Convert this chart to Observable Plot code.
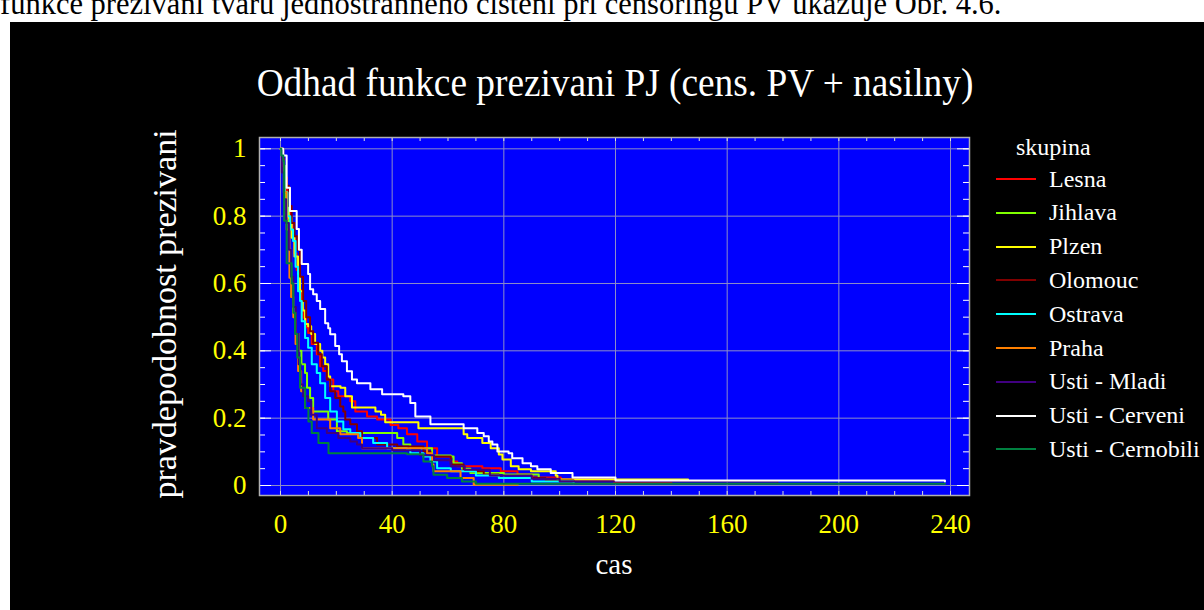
<!DOCTYPE html>
<html>
<head>
<meta charset="utf-8">
<script src="https://cdn.jsdelivr.net/npm/d3@7"></script>
<script src="https://cdn.jsdelivr.net/npm/@observablehq/plot@0.6"></script>
<style>
  html, body { margin: 0; padding: 0; background: #ffffff; width: 1204px; height: 610px; overflow: hidden; }
  #doc { position: absolute; left: 0; top: -11px; white-space: nowrap; font-family: "Liberation Serif", serif; font-size: 30.5px; color: #000; line-height: 30.5px; }
  #panel { position: absolute; left: 10px; top: 22px; width: 1194px; height: 588px; background: #000; overflow: hidden; }
  #chart { position: absolute; left: 0; top: 0; }
  .t { position: absolute; font-family: "Liberation Serif", serif; color: #fff; white-space: nowrap; line-height: 1; }
  #title { left: 605px; top: 40px; font-size: 41px; transform: translateX(-50%) scaleX(0.91); }
  #xlabel { left: 604px; top: 528px; font-size: 29px; transform: translateX(-50%); }
  #ylabel { left: 155px; top: 292px; font-size: 34px; transform: translate(-50%, -50%) rotate(-90deg); }
  #legend { position: absolute; left: 980px; top: 110px; }
  .lt { font-family: "Liberation Serif", serif; color: #fff; font-size: 24px; white-space: nowrap; position: absolute; line-height: 1; }
  .ll { position: absolute; height: 2px; width: 40px; }
</style>
</head>
<body>
<div id="doc">funkce přežívání tvaru jednostranného čištění při censoringu PV ukazuje Obr. 4.6.</div>
<div id="panel">
  <div id="chart"></div>
  <div class="t" id="title">Odhad funkce prezivani PJ (cens. PV + nasilny)</div>
  <div class="t" id="xlabel">cas</div>
  <div class="t" id="ylabel">pravdepodobnost prezivani</div>
  <div id="legend"></div>
</div>
<script>
// ---- data ----
const groups = ["Lesna","Jihlava","Plzen","Olomouc","Ostrava","Praha","Usti - Mladi","Usti - Cerveni","Usti - Cernobili"];
const colors = ["#ff0000","#80ff00","#ffff00","#800000","#00ffff","#ff8000","#400080","#ffffff","#008040"];
const legendTitle = "skupina";
const xTicks = [0, 40, 80, 120, 160, 200, 240];
const yTicks = [0, 0.2, 0.4, 0.6, 0.8, 1];

// each series: [time, survival] step points
const lesna = [[0,1],[0.5,0.97],[1.2,0.93],[1.6,0.915],[2.3,0.87],[3,0.82],[3.6,0.78],[4.3,0.74],[5,0.69],[5.8,0.64],[6.6,0.58],[7.6,0.528],[8.1,0.498],[9.2,0.47],[9.9,0.453],[11.2,0.42],[13,0.39],[14.2,0.354],[15.3,0.34],[16.6,0.315],[18.9,0.28],[20.7,0.265],[25,0.25],[26.8,0.22],[31,0.205],[34.6,0.196],[39.4,0.18],[42.2,0.17],[45.3,0.152],[49,0.131],[52.5,0.111],[56.1,0.086],[61,0.071],[63.3,0.057],[72.3,0.051],[78.9,0.042],[84.9,0.033],[90.3,0.024],[100.4,0.018],[119.5,0.01],[140,0.01]];
const jihlava = [[0,1],[0.6,0.95],[1.2,0.87],[2,0.8],[3,0.7],[3.8,0.6],[4.5,0.513],[5.5,0.45],[6.5,0.4],[7.5,0.36],[8.8,0.334],[9.5,0.29],[10.6,0.26],[11.7,0.22],[15.3,0.22],[17.1,0.196],[20.2,0.161],[23.8,0.156],[40.4,0.156],[41.8,0.141],[44,0.122],[46.5,0.111],[54.3,0.089],[61,0.086],[62,0.066],[65,0.05],[68,0.037],[80,0.033],[92.5,0.022],[95,0.022]];
const plzen = [[0,1],[0.8,0.95],[1.5,0.87],[3,0.795],[4,0.736],[5,0.68],[6.3,0.628],[7,0.577],[8,0.52],[8.8,0.48],[9.9,0.473],[11,0.45],[12.4,0.42],[14.2,0.4],[15,0.38],[16,0.36],[17.1,0.324],[17.8,0.295],[21.5,0.29],[23.2,0.265],[25.6,0.232],[34,0.22],[36,0.21],[37.5,0.188],[49.4,0.17],[65.6,0.152],[66.9,0.141],[72.3,0.126],[75.3,0.111],[78.2,0.092],[79.5,0.077],[82.5,0.057],[85.3,0.048],[89.7,0.042],[98.6,0.03],[99.2,0.018],[146,0.018]];
const olomouc = [[0,1],[1,0.95],[2,0.89],[3,0.83],[4,0.78],[5,0.74],[6,0.7],[7,0.62],[8.1,0.548],[9.2,0.5],[10.6,0.458],[11.7,0.424],[13.5,0.39],[14.8,0.354],[16.6,0.315],[17.8,0.28],[19.6,0.26],[21.4,0.235],[22.5,0.22],[23.2,0.196],[25,0.182],[27.4,0.161],[29.2,0.141],[34.6,0.122],[41.8,0.116],[51.2,0.101],[53.7,0.086],[61,0.0625],[65.6,0.042],[72.8,0.033],[78.2,0.022],[95,0.015],[105,0.015]];
const ostrava = [[0,1],[0.8,0.95],[1.6,0.87],[2.5,0.8],[3.5,0.76],[4.5,0.726],[5.4,0.65],[6.3,0.577],[7,0.548],[7.6,0.488],[8.8,0.438],[9.9,0.409],[11.2,0.36],[13,0.334],[14.2,0.304],[16,0.26],[17.8,0.22],[20.2,0.19],[22.5,0.167],[25,0.156],[28.6,0.141],[33.2,0.126],[38.2,0.111],[45.3,0.107],[46.5,0.096],[51.2,0.086],[53.7,0.071],[56.1,0.051],[61,0.042],[70,0.03],[78.2,0.022],[90,0.012],[105,0.007]];
const praha = [[0,1],[0.6,0.95],[1.4,0.87],[2.2,0.76],[3.2,0.617],[3.8,0.56],[4.6,0.5],[5.4,0.42],[6.3,0.34],[7.4,0.28],[8.8,0.23],[11.7,0.196],[16.6,0.196],[17.8,0.17],[21.4,0.152],[27.8,0.141],[29.2,0.111],[52.5,0.096],[54.3,0.0625],[54.8,0.042],[63.3,0.042],[64.5,0.022],[69.2,0.002],[85,0.002]];
const ustiMladi = [[0,1],[0.5,0.93],[1.2,0.85],[2,0.78],[3,0.7],[3.8,0.62],[4.6,0.53],[5.5,0.45],[6.5,0.36],[7.2,0.3],[8.1,0.265],[9.9,0.25],[11,0.21],[13,0.17],[16.6,0.156],[20.7,0.141],[25,0.131],[27.4,0.122],[29.2,0.111],[40,0.105],[50,0.09],[55,0.075],[61,0.057],[66,0.047],[75,0.03],[90,0.02],[100,0.012],[178,0.009]];
const ustiCerveni = [[0,1],[1,0.98],[2.2,0.884],[3.4,0.815],[5.8,0.762],[6.6,0.7],[7.6,0.658],[9.9,0.628],[10.6,0.583],[11.7,0.568],[13,0.548],[14.2,0.524],[16,0.482],[17.1,0.467],[17.8,0.449],[19.6,0.414],[21,0.39],[22,0.369],[23.8,0.339],[25.6,0.315],[27.4,0.304],[32.2,0.286],[36.4,0.271],[44,0.265],[46.5,0.245],[48.3,0.205],[53.7,0.182],[65.6,0.17],[70.5,0.156],[72.8,0.146],[74.6,0.131],[75.9,0.122],[77.7,0.101],[81.7,0.096],[83,0.081],[86.7,0.066],[89.7,0.057],[92,0.048],[96.8,0.037],[104.6,0.024],[120,0.015],[238,0.012]];
const ustiCernobili = [[0,1],[0.3,0.98],[1,0.964],[1.3,0.786],[2.2,0.66],[4,0.6],[4.6,0.513],[5.2,0.45],[6,0.38],[7,0.29],[8.8,0.23],[10,0.19],[11.2,0.156],[13.6,0.126],[17.2,0.096],[45.3,0.093],[51.2,0.071],[54.3,0.057],[54.8,0.032],[59.7,0.022],[65,0.012],[70,0.005],[238,0.005]];

const seriesList = [lesna, jihlava, plzen, olomouc, ostrava, praha, ustiMladi, ustiCerveni, ustiCernobili];

// ---- build table ----
const rows = [];
seriesList.forEach((s, i) => s.forEach(([t, v]) => rows.push({group: groups[i], t, s: v})));

const minorX = d3.range(0, 241, 10);
const minorY = d3.range(0, 1.0001, 0.05).map(v => +v.toFixed(2));

const W = 1194, H = 588;
const mL = 249, mR = 235, mT = 115, mB = 115;
const innerW = W - mL - mR, innerH = H - mT - mB;

const chart = Plot.plot({
  width: W, height: H,
  marginLeft: mL, marginRight: mR, marginTop: mT, marginBottom: mB,
  style: {background: "transparent", color: "#ffff00", fontFamily: "Liberation Serif, serif"},
  x: {domain: [-7.52, 246.8]},
  y: {domain: [-0.0297, 1.0336]},
  color: {domain: groups, range: colors},
  marks: [
    Plot.frame({fill: "#0000ff"}),
    Plot.gridX(xTicks, {stroke: "#8c8cc8", strokeOpacity: 1}),
    Plot.gridY(yTicks, {stroke: "#8c8cc8", strokeOpacity: 1}),
    // inner minor ticks
    Plot.ruleX(minorX, {stroke: "#e0e0d0", insetTop: innerH - 4}),
    Plot.ruleX(minorX, {stroke: "#e0e0e0", insetBottom: innerH - 4}),
    Plot.ruleY(minorY, {stroke: "#ffffff", insetRight: innerW - 6}),
    Plot.ruleY(minorY, {stroke: "#ffffff", insetLeft: innerW - 6}),
    Plot.ruleY(yTicks, {stroke: "#ffffff", insetRight: innerW - 12}),
    Plot.ruleY(yTicks, {stroke: "#ffffff", insetLeft: innerW - 12}),
    Plot.line(rows, {x: "t", y: "s", z: "group", stroke: "group", strokeWidth: 2, curve: "step-after"}),
    Plot.frame({stroke: "#b0b0b0", strokeWidth: 1.5}),
    Plot.axisX(xTicks, {tickSize: 0, tickPadding: 18, fontSize: 27, color: "#ffff00", tickFormat: d => String(d), label: null}),
    Plot.axisY(yTicks, {tickSize: 0, tickPadding: 13, fontSize: 27, color: "#ffff00", tickFormat: d => String(d), label: null})
  ]
});
document.getElementById("chart").appendChild(chart);

// ---- legend ----
const leg = document.getElementById("legend");
const lt = document.createElement("div");
lt.className = "lt"; lt.textContent = legendTitle;
lt.style.left = "26px"; lt.style.top = "3px";
leg.appendChild(lt);
groups.forEach((g, i) => {
  const y = 47 + i * 33.8;
  const line = document.createElement("div");
  line.className = "ll"; line.style.background = colors[i];
  line.style.left = "6px"; line.style.top = (y - 1) + "px";
  leg.appendChild(line);
  const tx = document.createElement("div");
  tx.className = "lt"; tx.textContent = g;
  tx.style.left = "59px"; tx.style.top = (y - 12.5) + "px";
  leg.appendChild(tx);
});
</script>
</body>
</html>
